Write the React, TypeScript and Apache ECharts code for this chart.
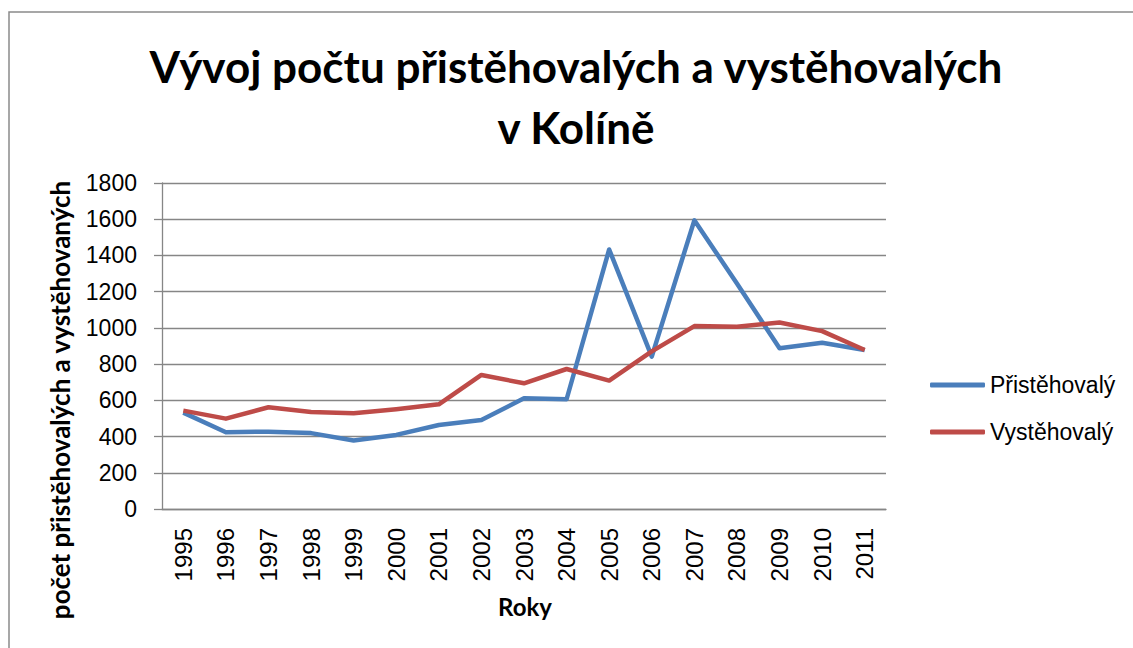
import React, { useEffect, useRef } from "react";
import * as echarts from "echarts";

const years = ["1995","1996","1997","1998","1999","2000","2001","2002","2003","2004","2005","2006","2007","2008","2009","2010","2011"];
const pristehovali = [532, 424, 427, 419, 378, 409, 464, 492, 611, 606, 1433, 841, 1594, 1245, 887, 918, 878];
const vystehovali = [543, 499, 562, 536, 529, 551, 578, 740, 694, 773, 709, 870, 1010, 1006, 1030, 982, 878];
const yTicks = { min: 0, max: 1800, interval: 200 };

const titleLine1 = "Vývoj počtu přistěhovalých a vystěhovalých";
const titleLine2 = "v Kolíně";
const yName = "počet přistěhovalých a vystěhovaných";
const xName = "Roky";

export default function App() {
  const ref = useRef<HTMLDivElement>(null);
  useEffect(() => {
    if (!ref.current) return;
    const chart = echarts.init(ref.current, undefined, { renderer: "svg" });
    const grey = "#868686";
    const font = "Liberation Sans";
    const boldText = (text: string, x: number, y: number, size: number, rotation = 0) => ({
      type: "text",
      x,
      y,
      rotation,
      style: {
        text,
        fontFamily: "Lato",
        fontWeight: "bold",
        fontSize: size,
        fill: "#000",
        align: "center",
        verticalAlign: "middle",
      },
    });
    chart.setOption({
      animation: false,
      backgroundColor: "#ffffff",
      legend: {
        orient: "vertical",
        left: 925,
        top: 368,
        itemWidth: 55,
        itemHeight: 5,
        itemGap: 23,
        icon: "roundRect",
        textStyle: { fontFamily: font, fontSize: 23, color: "#000", lineHeight: 24 },
        data: ["Přistěhovalý", "Vystěhovalý"],
      },
      grid: { left: 162, right: 247, top: 183, bottom: 139, containLabel: false },
      xAxis: {
        type: "category",
        data: years,
        boundaryGap: true,
        axisLine: { lineStyle: { color: grey, width: 1.3 } },
        axisTick: { show: false },
        axisLabel: { rotate: 90, fontFamily: font, fontSize: 24, color: "#000", margin: 19, interval: 0 },
      },
      yAxis: {
        type: "value",
        min: yTicks.min,
        max: yTicks.max,
        interval: yTicks.interval,
        axisLine: { show: true, lineStyle: { color: grey, width: 1.3 } },
        axisTick: { show: true, inside: false, length: 8, lineStyle: { color: grey, width: 1.3 } },
        axisLabel: {
          fontFamily: font,
          fontSize: 23,
          color: "#000",
          margin: 25,
          formatter: (v: number) => String(v),
        },
        splitLine: { lineStyle: { color: grey, width: 1.3 } },
      },
      graphic: [
        {
          type: "rect",
          shape: { x: 9, y: 12, width: 1140, height: 700 },
          style: { fill: "none", stroke: "#8a8a8a", lineWidth: 1.5 },
          silent: true,
          z: -1,
        },
        boldText(titleLine1, 576, 66, 44),
        boldText(titleLine2, 576, 127, 44),
        boldText(yName, 60, 400, 26, Math.PI / 2),
        boldText(xName, 525, 606, 24),
      ],
      series: [
        {
          name: "Přistěhovalý",
          type: "line",
          data: pristehovali,
          symbol: "none",
          lineStyle: { color: "#4a7ebb", width: 4.5, join: "round" },
          itemStyle: { color: "#4a7ebb" },
        },
        {
          name: "Vystěhovalý",
          type: "line",
          data: vystehovali,
          symbol: "none",
          lineStyle: { color: "#be4b48", width: 4.5, join: "round" },
          itemStyle: { color: "#be4b48" },
        },
      ],
    });
    return () => chart.dispose();
  }, []);
  return (
    <div
      ref={ref}
      style={{ position: "fixed", left: 0, top: 0, width: 1133, height: 648 }}
    />
  );
}
